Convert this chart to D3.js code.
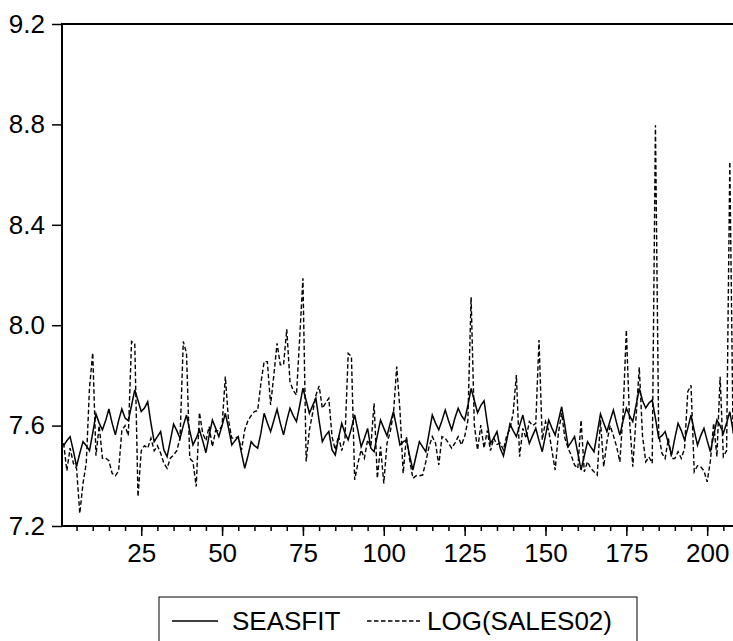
<!DOCTYPE html>
<html>
<head>
<meta charset="utf-8">
<script src="https://cdn.jsdelivr.net/npm/d3@7"></script>
<style>
  body { margin: 0; background: #fff; }
  svg { display: block; }
  text { font-family: "Liberation Sans", Arial, sans-serif; }
</style>
</head>
<body>
<svg id="chart" width="733" height="641"></svg>
<script>
// series, obs 1..208
var seasfit = [
  7.52, 7.54, 7.556, 7.50, 7.437, 7.49, 7.536, 7.52, 7.50, 7.57,
  7.646, 7.61, 7.583, 7.62, 7.666, 7.61, 7.563, 7.62, 7.666, 7.63,
  7.62, 7.68, 7.742, 7.70, 7.656, 7.67, 7.695, 7.61, 7.536, 7.556,
  7.576, 7.503, 7.476, 7.54, 7.606, 7.58, 7.549, 7.60, 7.642, 7.58,
  7.523, 7.55, 7.583, 7.54, 7.492, 7.56, 7.622, 7.59, 7.556, 7.60,
  7.649, 7.59, 7.523, 7.54, 7.556, 7.49, 7.43, 7.48, 7.536, 7.52,
  7.51, 7.57, 7.649, 7.61, 7.576, 7.62, 7.665, 7.61, 7.563, 7.62,
  7.669, 7.64, 7.616, 7.68, 7.749, 7.70, 7.649, 7.68, 7.709, 7.62,
  7.536, 7.56, 7.576, 7.503, 7.483, 7.55, 7.609, 7.57, 7.543, 7.59,
  7.643, 7.58, 7.516, 7.55, 7.589, 7.51, 7.496, 7.56, 7.622, 7.59,
  7.559, 7.61, 7.656, 7.59, 7.523, 7.535, 7.543, 7.48, 7.423, 7.48,
  7.536, 7.515, 7.496, 7.57, 7.642, 7.61, 7.583, 7.62, 7.662, 7.62,
  7.583, 7.63, 7.669, 7.64, 7.622, 7.68, 7.748, 7.70, 7.651, 7.68,
  7.699, 7.61, 7.529, 7.55, 7.576, 7.51, 7.479, 7.54, 7.606, 7.58,
  7.556, 7.60, 7.642, 7.58, 7.529, 7.56, 7.589, 7.54, 7.496, 7.56,
  7.622, 7.59, 7.562, 7.62, 7.675, 7.60, 7.516, 7.535, 7.556, 7.49,
  7.423, 7.48, 7.536, 7.515, 7.496, 7.57, 7.646, 7.61, 7.576, 7.62,
  7.662, 7.61, 7.562, 7.62, 7.669, 7.64, 7.616, 7.68, 7.748, 7.70,
  7.67, 7.69, 7.702, 7.63, 7.55, 7.56, 7.576, 7.53, 7.483, 7.55,
  7.609, 7.58, 7.543, 7.59, 7.642, 7.58, 7.522, 7.56, 7.589, 7.54,
  7.496, 7.56, 7.622, 7.60, 7.569, 7.61, 7.655, 7.58
];

var logSales = [
  7.53, 7.42, 7.51, 7.45, 7.43, 7.25, 7.37, 7.45, 7.75, 7.89,
  7.48, 7.60, 7.47, 7.47, 7.46, 7.41, 7.40, 7.42, 7.58, 7.60,
  7.56, 7.935, 7.928, 7.317, 7.50, 7.52, 7.51, 7.55, 7.50, 7.52,
  7.49, 7.45, 7.43, 7.47, 7.483, 7.50, 7.55, 7.935, 7.888, 7.47,
  7.456, 7.357, 7.652, 7.57, 7.54, 7.596, 7.516, 7.58, 7.58, 7.60,
  7.795, 7.62, 7.55, 7.55, 7.556, 7.503, 7.583, 7.62, 7.64, 7.656,
  7.66, 7.768, 7.855, 7.855, 7.682, 7.80, 7.928, 7.842, 7.842, 7.984,
  7.775, 7.74, 7.722, 7.95, 8.187, 7.457, 7.583, 7.65, 7.72, 7.758,
  7.669, 7.69, 7.709, 7.556, 7.503, 7.56, 7.50, 7.55, 7.888, 7.875,
  7.384, 7.45, 7.503, 7.47, 7.543, 7.516, 7.689, 7.39, 7.516, 7.37,
  7.53, 7.576, 7.649, 7.835, 7.662, 7.41, 7.556, 7.463, 7.39, 7.40,
  7.40, 7.403, 7.456, 7.516, 7.556, 7.53, 7.443, 7.556, 7.55, 7.53,
  7.51, 7.53, 7.556, 7.523, 7.556, 7.62, 8.111, 7.602, 7.503, 7.602,
  7.51, 7.58, 7.50, 7.55, 7.525, 7.53, 7.503, 7.56, 7.585, 7.65,
  7.801, 7.476, 7.589, 7.55, 7.616, 7.60, 7.609, 7.941, 7.543, 7.616,
  7.58, 7.50, 7.423, 7.57, 7.65, 7.55, 7.51, 7.48, 7.443, 7.43,
  7.622, 7.416, 7.456, 7.43, 7.416, 7.403, 7.622, 7.436, 7.536, 7.60,
  7.56, 7.516, 7.456, 7.65, 7.981, 7.62, 7.436, 7.63, 7.832, 7.56,
  7.456, 7.475, 7.45, 8.797, 7.569, 7.49, 7.469, 7.549, 7.469, 7.469,
  7.496, 7.469, 7.509, 7.735, 7.761, 7.416, 7.44, 7.436, 7.42, 7.376,
  7.46, 7.61, 7.476, 7.795, 7.476, 7.50, 8.651, 7.56
];

var seriesNames = ["SEASFIT", "LOG(SALES02)"];
var yTicks = [7.2, 7.6, 8.0, 8.4, 8.8, 9.2];
var xLabelTicks = [25, 50, 75, 100, 125, 150, 175, 200];

(function() {
  var obs = d3.range(1, seasfit.length + 1);

  var mLeft = 62, mTop = 24, mBottom = 526;
  var step = 3.234;
  var mRight = mLeft + seasfit.length * step;   // frame runs past the window edge
  var dash = "4.5,2.5";

  var x = d3.scaleLinear().domain([0.5, seasfit.length + 0.5]).range([mLeft, mRight]);
  var y = d3.scaleLinear().domain([7.2, 9.2]).range([mBottom, mTop]);

  var svg = d3.select("#chart");

  // frame
  svg.append("rect")
    .attr("x", mLeft).attr("y", mTop)
    .attr("width", mRight - mLeft).attr("height", mBottom - mTop)
    .style("fill", "none")
    .style("stroke", "#000")
    .style("stroke-width", "2px");

  // y axis
  var yAxis = d3.axisLeft(y)
    .tickValues(yTicks)
    .tickSize(10)
    .tickPadding(7)
    .tickFormat(d3.format(".1f"));

  var gy = svg.append("g")
    .attr("transform", "translate(" + mLeft + ",0)")
    .call(yAxis);
  gy.select(".domain").remove();
  gy.selectAll("text").style("font-size", "26px").style("fill", "#000");

  // x axis: small ticks every 5, long ones with labels every 25
  var xMinor = d3.axisBottom(x)
    .tickValues(d3.range(5, seasfit.length + 1, 5))
    .tickSize(5)
    .tickFormat("");
  var gxm = svg.append("g")
    .attr("transform", "translate(0," + mBottom + ")")
    .call(xMinor);
  gxm.select(".domain").remove();

  var xMajor = d3.axisBottom(x)
    .tickValues(xLabelTicks)
    .tickSize(10)
    .tickPadding(8)
    .tickFormat(d3.format("d"));
  var gx = svg.append("g")
    .attr("transform", "translate(0," + mBottom + ")")
    .call(xMajor);
  gx.select(".domain").remove();
  gx.selectAll("text").style("font-size", "26px").style("fill", "#000");

  svg.selectAll(".tick line").style("stroke", "#000").style("stroke-width", "1.5px");

  // lines
  svg.append("clipPath").attr("id", "plotclip")
    .append("rect")
    .attr("x", mLeft).attr("y", mTop)
    .attr("width", mRight - mLeft).attr("height", mBottom - mTop);

  var line = d3.line()
    .x(function(d) { return x(d[0]); })
    .y(function(d) { return y(d[1]); });

  svg.append("path")
    .datum(obs.map(function(t, i) { return [t, logSales[i]]; }))
    .attr("d", line)
    .attr("clip-path", "url(#plotclip)")
    .style("fill", "none")
    .style("stroke", "#000")
    .style("stroke-width", "1.4px")
    .style("stroke-dasharray", dash);

  svg.append("path")
    .datum(obs.map(function(t, i) { return [t, seasfit[i]]; }))
    .attr("d", line)
    .attr("clip-path", "url(#plotclip)")
    .style("fill", "none")
    .style("stroke", "#000")
    .style("stroke-width", "1.5px");

  // legend
  var lg = svg.append("g").attr("class", "legend");
  lg.append("rect")
    .attr("x", 159).attr("y", 597)
    .attr("width", 478).attr("height", 60)
    .style("fill", "#fff")
    .style("stroke", "#000")
    .style("stroke-width", "1px");

  lg.append("line")
    .attr("x1", 172).attr("x2", 218).attr("y1", 621).attr("y2", 621)
    .style("stroke", "#000").style("stroke-width", "1.5px");
  lg.append("text")
    .attr("x", 232).attr("y", 630)
    .style("font-size", "26px")
    .text(seriesNames[0]);

  lg.append("line")
    .attr("x1", 367).attr("x2", 420).attr("y1", 621).attr("y2", 621)
    .style("stroke", "#000").style("stroke-width", "1.4px")
    .style("stroke-dasharray", dash);
  lg.append("text")
    .attr("x", 427).attr("y", 630)
    .style("font-size", "26px")
    .text(seriesNames[1]);
})();
</script>
</body>
</html>
